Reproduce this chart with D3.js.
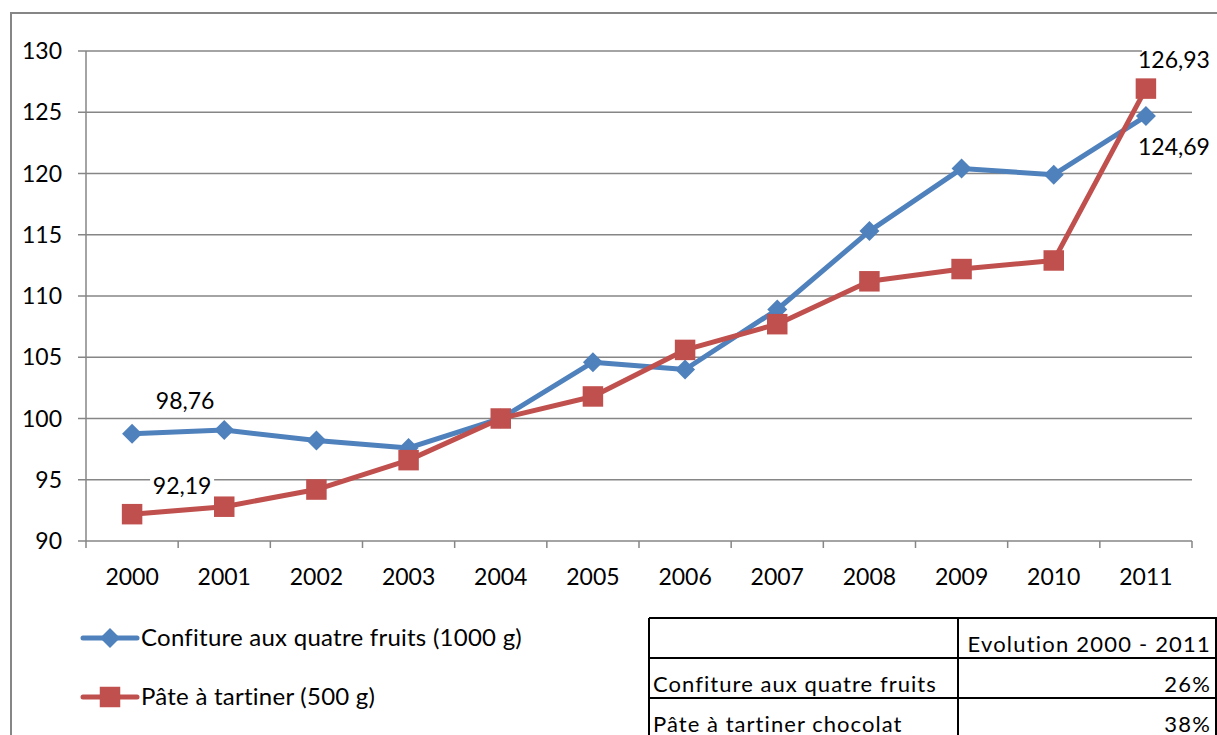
<!DOCTYPE html>
<html>
<head>
<meta charset="utf-8">
<script src="https://cdn.jsdelivr.net/npm/d3@7"></script>
<style>
  body { margin: 0; background: #fff; }
  text { font-family: Lato, "Open Sans", sans-serif; fill: #000; }
</style>
</head>
<body>
<script>
// data
var years = ["2000","2001","2002","2003","2004","2005","2006","2007","2008","2009","2010","2011"];
var confiture = [98.76, 99.06, 98.2, 97.6, 100, 104.6, 104.0, 108.9, 115.3, 120.4, 119.9, 124.69];
var pate = [92.19, 92.8, 94.2, 96.6, 100, 101.8, 105.6, 107.7, 111.2, 112.2, 112.9, 126.93];
var seriesNames = ["Confiture aux quatre fruits (1000 g)", "Pâte à tartiner (500 g)"];
var yTicks = [90, 95, 100, 105, 110, 115, 120, 125, 130];
var tableHead = ["", "Evolution 2000 - 2011"];
var tableRows = [["Confiture aux quatre fruits", "26%"], ["Pâte à tartiner chocolat", "38%"]];

var w = 1217, h = 735;
var mLeft = 86, mRight = 1192, mTop = 51, mBottom = 541;
var blue = "#4F81BD", red = "#C0504D", gridc = "#868686";

var svg = d3.select("body").append("svg")
  .attr("width", w)
  .attr("height", h);

// outer frame
svg.append("path")
  .attr("d", "M11,735 L11,13 L1217,13")
  .attr("fill", "none")
  .attr("stroke", gridc)
  .attr("stroke-width", 2);

var x = d3.scaleBand().domain(years).range([mLeft, mRight]);
var y = d3.scaleLinear().domain([90, 130]).range([mBottom, mTop]);

// gridlines
svg.selectAll(".grid")
  .data(yTicks)
  .enter()
  .append("line")
  .attr("x1", mLeft - 8)
  .attr("x2", mRight)
  .attr("y1", function(d){ return y(d) })
  .attr("y2", function(d){ return y(d) })
  .attr("stroke", gridc)
  .attr("stroke-width", 1.5);

// y axis line
svg.append("line")
  .attr("x1", mLeft).attr("x2", mLeft)
  .attr("y1", mTop).attr("y2", mBottom)
  .attr("stroke", gridc).attr("stroke-width", 1.5);

svg.selectAll(".ylab")
  .data(yTicks)
  .enter()
  .append("text")
  .attr("x", 62)
  .attr("y", function(d){ return y(d) + 8 })
  .attr("text-anchor", "end")
  .attr("font-size", "23px")
  .text(function(d){ return d });

// x ticks at band edges
var edges = years.map(function(d){ return x(d) }).concat([mRight]);
svg.selectAll(".xtick")
  .data(edges)
  .enter()
  .append("line")
  .attr("x1", function(d){ return d })
  .attr("x2", function(d){ return d })
  .attr("y1", mBottom)
  .attr("y2", mBottom + 7)
  .attr("stroke", gridc).attr("stroke-width", 1.5);

svg.selectAll(".xlab")
  .data(years)
  .enter()
  .append("text")
  .attr("x", function(d){ return x(d) + x.bandwidth() / 2 })
  .attr("y", 585)
  .attr("text-anchor", "middle")
  .attr("font-size", "23px")
  .text(function(d){ return d });

var line = d3.line()
  .x(function(d,i){ return x(years[i]) + x.bandwidth() / 2 })
  .y(function(d){ return y(d) });

function drawSeries(vals, color, size, rot) {
  svg.append("path")
    .datum(vals)
    .attr("d", line)
    .attr("fill", "none")
    .attr("stroke", color)
    .attr("stroke-width", 5)
    .attr("stroke-linejoin", "round");
  svg.selectAll(null)
    .data(vals)
    .enter()
    .append("path")
    .attr("d", d3.symbol().type(d3.symbolSquare).size(size))
    .attr("transform", function(d,i){
      return "translate(" + (x(years[i]) + x.bandwidth() / 2) + "," + y(d) + ")" + (rot ? " rotate(45)" : "");
    })
    .attr("fill", color);
}
drawSeries(confiture, blue, 200, true);
drawSeries(pate, red, 420, false);

// data labels (first and last points)
function fmt(v){ return v.toFixed(2).replace(".", ",") }
var labels = [
  {v: confiture[0], i: 0, dx: 53, dy: -25},
  {v: pate[0], i: 0, dx: 50, dy: -20},
  {v: pate[11], i: 11, dx: 28, dy: -21},
  {v: confiture[11], i: 11, dx: 28, dy: 39}
];
var lg = svg.selectAll(".dlab")
  .data(labels)
  .enter()
  .append("g")
  .attr("transform", function(d){
    return "translate(" + (x(years[d.i]) + x.bandwidth() / 2 + d.dx) + "," + (y(d.v) + d.dy) + ")";
  });
lg.append("rect")
  .attr("x", -32).attr("y", -18)
  .attr("width", 64).attr("height", 20)
  .attr("fill", "#fff");
lg.append("text")
  .attr("text-anchor", "middle")
  .attr("font-size", "23px")
  .text(function(d){ return fmt(d.v) });

// legend
var legendY = [638, 697];
var legendColors = [blue, red];
seriesNames.forEach(function(name, k){
  var g = svg.append("g");
  g.append("line")
    .attr("x1", 83).attr("x2", 137)
    .attr("y1", legendY[k]).attr("y2", legendY[k])
    .attr("stroke", legendColors[k]).attr("stroke-width", 5)
    .attr("stroke-linecap", "round");
  g.append("path")
    .attr("d", d3.symbol().type(d3.symbolSquare).size(k === 0 ? 200 : 420))
    .attr("transform", "translate(110," + legendY[k] + ")" + (k === 0 ? " rotate(45)" : ""))
    .attr("fill", legendColors[k]);
  g.append("text")
    .attr("x", 141)
    .attr("y", legendY[k] + 8)
    .attr("font-size", "24px")
    .attr("letter-spacing", "0.25px")
    .text(name);
});

// table
var tx0 = 649, tx1 = 958, tx2 = 1217;
var rowsY = [618, 658, 698, 738];
var allRows = [tableHead].concat(tableRows);
var tg = svg.append("g");
rowsY.forEach(function(yy){
  tg.append("line").attr("x1", tx0).attr("x2", tx2).attr("y1", yy).attr("y2", yy)
    .attr("stroke", "#000").attr("stroke-width", 2);
});
[tx0, tx1, tx2 - 1].forEach(function(xx){
  tg.append("line").attr("x1", xx).attr("x2", xx).attr("y1", rowsY[0]).attr("y2", h)
    .attr("stroke", "#000").attr("stroke-width", 2);
});
allRows.forEach(function(r, k){
  tg.append("text")
    .attr("x", tx0 + 4)
    .attr("y", rowsY[k] + 34)
    .attr("font-size", "22px")
    .attr("letter-spacing", "1.05px")
    .text(r[0]);
  tg.append("text")
    .attr("x", tx2 - 6)
    .attr("y", rowsY[k] + 34)
    .attr("text-anchor", "end")
    .attr("font-size", "22px")
    .attr("letter-spacing", "1.2px")
    .text(r[1]);
});
</script>
</body>
</html>
